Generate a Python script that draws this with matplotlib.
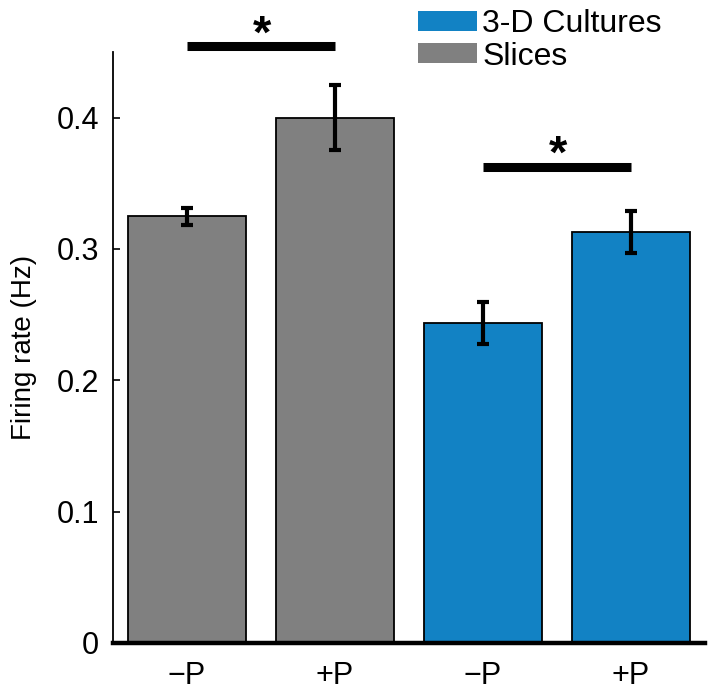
import matplotlib
matplotlib.use("Agg")
import matplotlib.pyplot as plt
from matplotlib.patches import Patch

plt.rcParams['font.family'] = ['Liberation Sans', 'DejaVu Sans']

tick_labels = ['\u2212P', '+P', '\u2212P', '+P']
groups = ['Slices', 'Slices', '3-D Cultures', '3-D Cultures']
means = [0.325, 0.400, 0.244, 0.313]
errors = [0.0065, 0.0245, 0.016, 0.016]
sig_pairs = [(0, 1), (2, 3)]
sig_heights = [0.4544, 0.3627]

colors = {'Slices': '#808080', '3-D Cultures': '#1282C4'}

fig = plt.figure(figsize=(7.09, 6.91), dpi=100)
ax = fig.add_axes([113/709, 1 - 643/691, (705-113)/709, (643-52)/691])

x = list(range(len(means)))
ax.bar(x, means, width=0.8, color=[colors[g] for g in groups],
       edgecolor='black', linewidth=1.3, zorder=2)
ax.errorbar(x, means, yerr=errors, fmt='none', ecolor='black',
            elinewidth=3, capsize=4, capthick=3, zorder=3)

for (a, b), h in zip(sig_pairs, sig_heights):
    ax.plot([a, b], [h, h], color='black', linewidth=6.5, solid_capstyle='butt',
            clip_on=False, zorder=4)
    ax.text((a + b) / 2 + 0.01, h - 0.0085, '*', ha='center', va='bottom',
            fontsize=34, fontweight='bold', clip_on=False)

ax.set_xlim(-0.5, 3.5)
ax.set_ylim(0, 0.45)
ax.set_yticks([0, 0.1, 0.2, 0.3, 0.4])
ax.set_yticklabels(['0', '0.1', '0.2', '0.3', '0.4'])
ax.set_xticks(x)
ax.set_xticklabels(tick_labels)
ax.tick_params(axis='y', direction='in', length=5, width=1.2, labelsize=22, pad=10)
ax.tick_params(axis='x', length=0, labelsize=22, pad=13)
ax.set_ylabel('Firing rate (Hz)', fontsize=20, labelpad=14)

ax.spines['top'].set_visible(False)
ax.spines['right'].set_visible(False)
ax.spines['left'].set_linewidth(1.3)
ax.spines['bottom'].set_linewidth(3.2)

handles = [Patch(facecolor=colors['3-D Cultures'], edgecolor='none', label='3-D Cultures'),
           Patch(facecolor=colors['Slices'], edgecolor='none', label='Slices')]
fig.legend(handles=handles, loc='upper left', bbox_to_anchor=(417.7/709, 1 - 9/691),
           frameon=False, fontsize=23, borderpad=0, borderaxespad=0,
           handlelength=1.85, handleheight=0.58, handletextpad=0.17, labelspacing=0.08)

fig.savefig('out.png', dpi=100)
